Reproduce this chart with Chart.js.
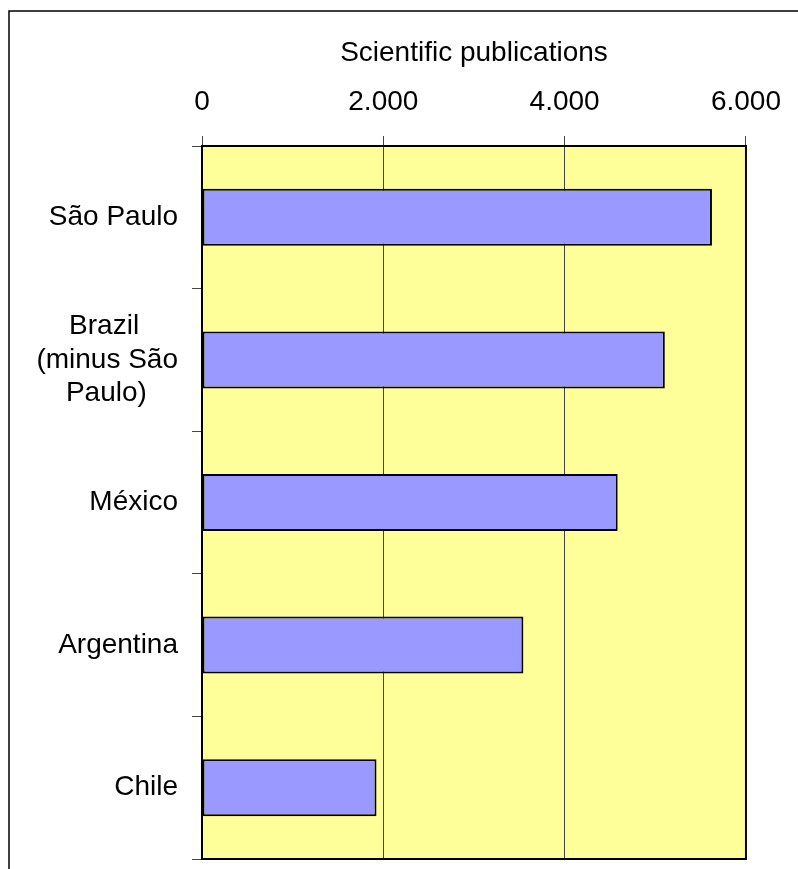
<!DOCTYPE html>
<html>
<head>
<meta charset="utf-8">
<script src="https://cdn.jsdelivr.net/npm/chart.js@4"></script>
<style>
  body { margin: 0; background: #fff; }
  #wrap { width: 798px; height: 869px; position: relative; }
</style>
</head>
<body>
<div id="wrap"><canvas id="pubs"></canvas></div>
<script>
    "use strict";

    // Data
    var regions = ["São Paulo", ["Brazil", "(minus São", "Paulo)"], "México", "Argentina", "Chile"];
    var publications = [5625, 5105, 4585, 3545, 1925];
    var xTicks = [0, 2000, 4000, 6000];
    var axisTitle = "Scientific publications";

    var font = "'Liberation Sans', Arial, sans-serif";
    var fontSize = 28;
    Chart.defaults.color = "#000000";
    Chart.defaults.font.family = font;

    // yellow plot area, black border and the outer frame
    var plotFrame = {
        id: "plotFrame",
        beforeDraw: function (chart) {
            var a = chart.chartArea, ctx = chart.ctx;
            ctx.save();
            ctx.fillStyle = "#FFFF99";
            ctx.fillRect(a.left, a.top, a.right - a.left, a.bottom - a.top);
            ctx.restore();
        },
        afterDraw: function (chart) {
            var a = chart.chartArea, ctx = chart.ctx;
            ctx.save();
            ctx.strokeStyle = "#000000";
            ctx.lineWidth = 2;
            ctx.strokeRect(a.left, a.top, a.right - a.left, a.bottom - a.top);
            ctx.lineWidth = 1.5;
            ctx.beginPath();
            ctx.moveTo(9, chart.height);
            ctx.lineTo(9, 11);
            ctx.lineTo(chart.width, 11);
            ctx.stroke();
            ctx.restore();
        }
    };

    // centre the lines of a multi-line label (ticks are right aligned)
    var measure = document.createElement("canvas").getContext("2d");
    function centreLines(label) {
        if (!Array.isArray(label)) return label;
        measure.font = fontSize + "px " + font;
        var sp = measure.measureText(" ").width;
        var widths = label.map(function (s) { return measure.measureText(s).width; });
        var maxW = Math.max.apply(null, widths);
        return label.map(function (s, i) {
            var n = Math.round((maxW - widths[i]) / 2 / sp);
            return s + " ".repeat(n);
        });
    }

    var ctx = document.getElementById("pubs").getContext("2d");
    var chart = new Chart(ctx, {
        type: "bar",
        data: {
            labels: regions,
            datasets: [{
                data: publications,
                backgroundColor: "#9999FF",
                borderColor: "#000000",
                borderWidth: 2,
                borderSkipped: false,
                categoryPercentage: 1,
                barPercentage: 0.4
            }]
        },
        options: {
            indexAxis: "y",
            responsive: true,
            maintainAspectRatio: false,
            devicePixelRatio: 1,
            animation: false,
            layout: { padding: { left: 0, top: 0, right: 52, bottom: 10 } },
            plugins: { legend: { display: false }, tooltip: { enabled: false } },
            scales: {
                x: {
                    position: "top",
                    min: 0,
                    max: 6000,
                    afterBuildTicks: function (scale) {
                        scale.ticks = xTicks.map(function (v) { return { value: v }; });
                    },
                    afterFit: function (scale) { scale.height = 146; },
                    grid: { color: "#444444", lineWidth: 1, tickLength: 10 },
                    border: { display: false },
                    ticks: {
                        padding: 17,
                        font: { size: fontSize },
                        callback: function (v) {
                            return String(v).replace(/\B(?=(\d{3})+(?!\d))/g, ".");
                        }
                    },
                    title: {
                        display: true,
                        text: axisTitle,
                        font: { size: fontSize },
                        padding: { top: 36, bottom: 0 }
                    }
                },
                y: {
                    afterFit: function (scale) {
                        scale.width = 202;
                        scale.paddingTop = 0;
                        scale.paddingBottom = 0;
                    },
                    grid: { drawOnChartArea: false, color: "#444444", lineWidth: 1, tickLength: 10 },
                    border: { display: false },
                    ticks: {
                        padding: 14,
                        font: { size: fontSize, lineHeight: 1.2 },
                        callback: function (v) {
                            return centreLines(this.getLabelForValue(v));
                        }
                    }
                }
            }
        },
        plugins: [plotFrame]
    });
</script>
</body>
</html>
